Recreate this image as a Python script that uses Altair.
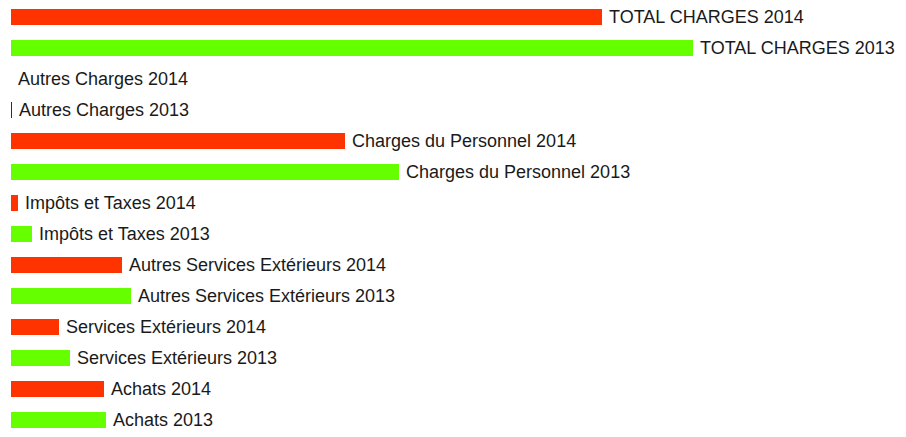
import altair as alt
import pandas as pd

categories = [
    "TOTAL CHARGES",
    "Autres Charges",
    "Charges du Personnel",
    "Impôts et Taxes",
    "Autres Services Extérieurs",
    "Services Extérieurs",
    "Achats",
]
values_2014 = [591, 0, 334, 7, 111, 48, 93]
values_2013 = [682, 1, 388, 21, 120, 59, 95]
years = ["2014", "2013"]
colors = ["#ff3300", "#66ff00"]

rows = []
for cat, v14, v13 in zip(categories, values_2014, values_2013):
    rows.append({"label": f"{cat} 2014", "year": "2014", "value": v14})
    rows.append({"label": f"{cat} 2013", "year": "2013", "value": v13})
df = pd.DataFrame(rows)
order = list(df["label"])

W = 887
H = 421

y_enc = alt.Y("label:N", sort=order, axis=None,
              scale=alt.Scale(paddingInner=0.485, paddingOuter=0.03))
x_scale = alt.Scale(domain=[0, W], nice=False, zero=True)

bars = alt.Chart(df).mark_bar().encode(
    x=alt.X("value:Q", scale=x_scale, axis=None),
    y=y_enc,
    color=alt.condition(
        "datum.value > 0 && datum.value < 2",
        alt.value("#7a0a2a"),
        alt.Color("year:N", scale=alt.Scale(domain=years, range=colors), legend=None),
    ),
)

labels = alt.Chart(df).mark_text(
    align="left", baseline="middle", dx=7, dy=1,
    font="Liberation Sans", fontSize=18, color="#1a1a1a",
).encode(
    x=alt.X("value:Q", scale=x_scale, axis=None),
    y=y_enc,
    text="label:N",
)

chart = alt.layer(bars, labels).properties(
    width=W, height=H,
    autosize=alt.AutoSizeParams(type="none"),
    padding={"left": 3, "top": 0, "right": 0, "bottom": 0},
).configure_view(stroke=None)

chart.save("out.html", embed_options={"renderer": "svg", "actions": False})
